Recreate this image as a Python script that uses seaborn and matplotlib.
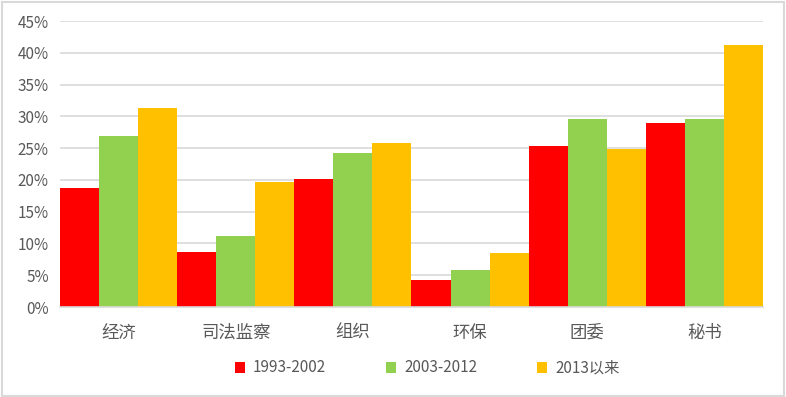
import pandas as pd
import numpy as np
import matplotlib.pyplot as plt
import seaborn as sns
from matplotlib.patches import Rectangle
from matplotlib.ticker import PercentFormatter

categories = ['经济', '司法监察', '组织', '环保', '团委', '秘书']
periods = ['1993-2002', '2003-2012', '2013以来']
p1993 = [18.8, 8.7, 20.2, 4.2, 25.4, 28.9]
p2003 = [26.9, 11.1, 24.3, 5.9, 29.6, 29.6]
p2013 = [31.3, 19.7, 25.8, 8.5, 24.9, 41.3]
colors = ['#FF0000', '#92D050', '#FFC000']

df = pd.DataFrame({
    'cat': categories * 3,
    'period': np.repeat(periods, len(categories)),
    'val': p1993 + p2003 + p2013,
})

sns.set_style('white')
plt.rcParams['font.family'] = ['Noto Sans CJK SC', 'DejaVu Sans']

fig = plt.figure(figsize=(7.86, 3.97), dpi=100)
ax = fig.add_axes([60/786, 1-307/397, 703/786, 286/397])

sns.barplot(data=df, x='cat', y='val', hue='period', palette=colors,
            width=1, gap=0, saturation=1, linewidth=0, ax=ax)

ax.set_ylim(0, 45)
ax.set_xlim(-0.5, 5.5)
ax.set_yticks(np.arange(0, 46, 5))
ax.yaxis.set_major_formatter(PercentFormatter(decimals=0))
ax.grid(axis='y', color='#d9d9d9', linewidth=1.2)
ax.set_axisbelow(True)
for s in ['top', 'right', 'left']:
    ax.spines[s].set_visible(False)
ax.spines['bottom'].set_color('#d9d9d9')
ax.spines['bottom'].set_linewidth(1.2)
ax.tick_params(axis='both', length=0, colors='#595959')
ax.tick_params(axis='x', pad=12, labelsize=12.5)
ax.tick_params(axis='y', pad=8, labelsize=11)
ax.set_xlabel('')
ax.set_ylabel('')

ax.legend(loc='center', bbox_to_anchor=(427/786, 1-368/397), bbox_transform=fig.transFigure,
          ncol=3, frameon=False, fontsize=11, handlelength=0.7, handleheight=0.7,
          columnspacing=3.9, handletextpad=0.5, labelcolor='#595959')

fig.patches.append(Rectangle((0.002, 0.003), 0.995, 0.993, transform=fig.transFigure,
                             fill=False, edgecolor='#d9d9d9', linewidth=1.5))

fig.savefig('out.png', dpi=100)
